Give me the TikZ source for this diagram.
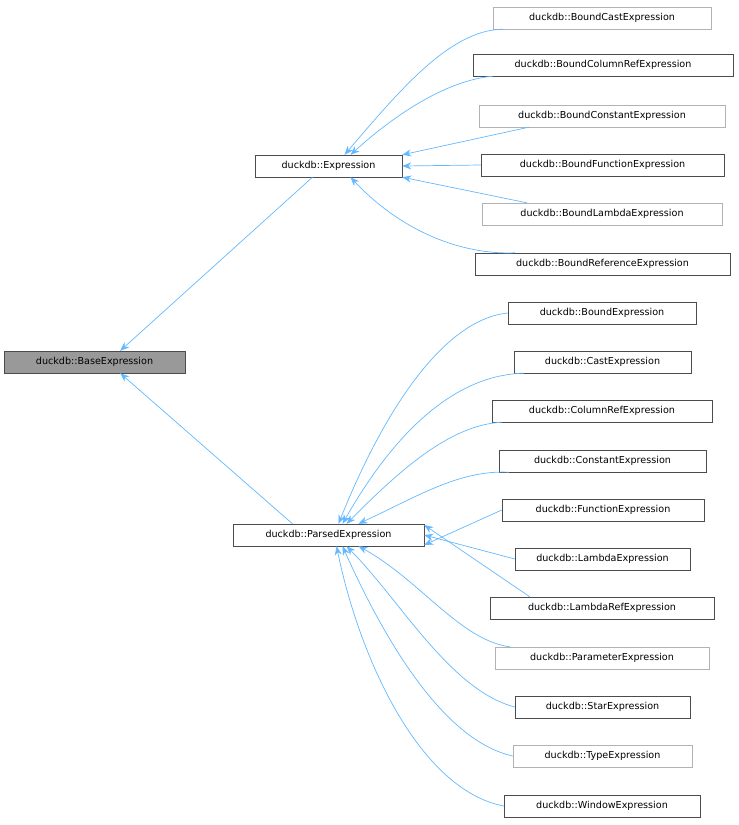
\documentclass[tikz,border=0pt]{standalone}
\usepackage{fontspec}
\setmainfont{DejaVu Sans}
\usetikzlibrary{arrows.meta}
\begin{document}
\begin{tikzpicture}[x=1pt,y=-1pt,
 box/.style={draw=black!70,fill=white,minimum height=22pt,inner xsep=5pt,font=\fontsize{9.6}{11}\selectfont,anchor=center},
 lite/.style={box,draw=black!30},
 inh/.style={draw=blue!35!cyan!60!white,color={rgb,255:red,99;green,184;blue,255},line width=0.7pt,{Stealth[length=9pt,width=7pt]}-}]
\useasboundingbox (0,0) rectangle (739,825);
\node[box,fill=black!40,minimum width=181pt] (base) at (94.5,362) {duckdb::BaseExpression};
\node[box,minimum width=147pt] (expr) at (328.5,166) {duckdb::Expression};
\node[box,minimum width=191pt] (parsed) at (328.5,535) {duckdb::ParsedExpression};
\node[lite,minimum width=218pt] (bcast) at (602,18) {duckdb::BoundCastExpression};
\node[box,minimum width=260pt] (bcol) at (603,65) {duckdb::BoundColumnRefExpression};
\node[lite,minimum width=246pt] (bconst) at (602,116) {duckdb::BoundConstantExpression};
\node[box,minimum width=243pt] (bfunc) at (602.5,165) {duckdb::BoundFunctionExpression};
\node[lite,minimum width=240pt] (blam) at (602,214) {duckdb::BoundLambdaExpression};
\node[box,minimum width=255pt] (bref) at (602.5,264) {duckdb::BoundReferenceExpression};
\node[box,minimum width=188pt] (bexp) at (602,313) {duckdb::BoundExpression};
\node[box,minimum width=177pt] (cast) at (602.5,362) {duckdb::CastExpression};
\node[box,minimum width=220pt] (col) at (602,411) {duckdb::ColumnRefExpression};
\node[box,minimum width=207pt] (const) at (602.5,461) {duckdb::ConstantExpression};
\node[box,minimum width=202pt] (func) at (603,510) {duckdb::FunctionExpression};
\node[box,minimum width=175pt] (lam) at (602.5,559) {duckdb::LambdaExpression};
\node[box,minimum width=224pt] (lamref) at (602,608) {duckdb::LambdaRefExpression};
\node[lite,minimum width=214pt] (param) at (602,658) {duckdb::ParameterExpression};
\node[box,minimum width=175pt] (star) at (602.5,707) {duckdb::StarExpression};
\node[lite,minimum width=179pt] (type) at (602.5,756) {duckdb::TypeExpression};
\node[box,minimum width=196pt] (win) at (602,806) {duckdb::WindowExpression};
% base
\draw[inh] (base.north east)++(-65,0) -- ([xshift=-16pt]expr.south);
\draw[inh] (base.south east)++(-65,0) -- ([xshift=-36pt]parsed.north);
% expression children
\draw[inh] ([xshift=16pt]expr.north) .. controls (400,90) and (450,30) .. ([xshift=10pt]bcast.south west);
\draw[inh] ([xshift=22pt]expr.north) .. controls (400,110) and (450,80) .. ([xshift=20pt]bcol.south west);
\draw[inh] (expr.north east) -- ([xshift=50pt]bconst.south west);
\draw[inh] (expr.east) -- (bfunc.west);
\draw[inh] (expr.south east) -- ([xshift=45pt]blam.north west);
\draw[inh] ([xshift=22pt]expr.south) .. controls (400,230) and (460,255) .. ([xshift=40pt]bref.north west);
% parsed children
\draw[inh] ([xshift=10pt]parsed.north) .. controls (380,420) and (440,320) .. (bexp.west);
\draw[inh] ([xshift=14pt]parsed.north) .. controls (390,440) and (450,375) .. ([xshift=10pt]cast.south west);
\draw[inh] ([xshift=18pt]parsed.north) .. controls (400,470) and (450,425) .. ([xshift=10pt]col.south west);
\draw[inh] ([xshift=30pt]parsed.north) .. controls (420,495) and (460,470) .. ([xshift=10pt]const.south west);
\draw[inh] ([yshift=-10pt]parsed.east) -- (func.west);
\draw[inh] (parsed.east) -- (lam.west);
\draw[inh] ([yshift=10pt]parsed.east) -- ([xshift=40pt]lamref.north west);
\draw[inh] ([xshift=30pt]parsed.south) .. controls (420,580) and (460,640) .. ([xshift=15pt]param.north west);
\draw[inh] ([xshift=18pt]parsed.south) .. controls (400,600) and (450,690) .. (star.west);
\draw[inh] ([xshift=14pt]parsed.south) .. controls (380,630) and (440,740) .. (type.west);
\draw[inh] ([xshift=8pt]parsed.south) .. controls (360,660) and (420,790) .. (win.west);
\end{tikzpicture}
\end{document}
